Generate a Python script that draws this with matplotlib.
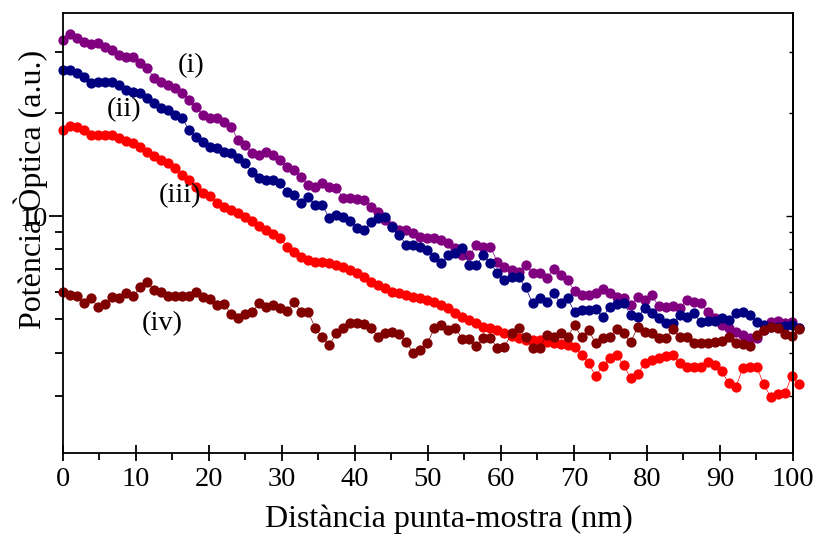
import numpy as np
import matplotlib
matplotlib.use("Agg")
import matplotlib.pyplot as plt
from matplotlib import ticker

plt.rcParams["font.family"] = ["Liberation Serif", "DejaVu Serif"]

# distància punta-mostra (nm), mostreig regular
n_points = 106
step_nm = 0.96
distance = np.arange(n_points) * step_nm

# (i) porpra
power_i = [
    32.60, 33.94, 33.04, 32.16, 31.73, 31.95, 31.10, 30.48, 29.47, 29.08,
    29.08, 27.93, 27.01, 25.26, 24.59, 24.09, 23.62, 22.84, 21.79, 20.79,
    19.70, 19.31, 19.31, 18.80, 18.18, 16.66, 16.11, 15.26, 15.06, 15.37,
    15.06, 14.56, 13.90, 13.62, 12.99, 12.31, 12.15, 12.48, 12.15, 12.07,
    11.28, 11.28, 11.21, 11.13, 10.62, 10.27, 9.735, 9.351, 9.103, 9.103,
    8.921, 8.685, 8.627, 8.627, 8.512, 8.342, 8.067, 7.696, 7.696, 8.230,
    8.121, 8.121, 7.343, 7.101, 6.959, 6.866, 7.196, 6.820, 6.820, 6.595,
    7.005, 6.729, 6.507, 6.044, 5.883, 5.883, 5.963, 6.125, 5.963, 5.805,
    5.767, 5.501, 5.805, 5.689, 5.883, 5.465, 5.428, 5.465, 5.392, 5.689,
    5.613, 5.576, 5.249, 5.042, 4.810, 4.714, 4.589, 4.498, 4.408, 4.408,
    4.651, 4.908, 4.941, 4.875, 4.908, 4.714,
]

# (ii) blau marí
power_ii = [
    26.65, 26.65, 26.12, 25.43, 24.42, 24.59, 24.59, 24.59, 24.09, 23.30,
    22.99, 22.84, 22.08, 21.35, 20.65, 20.37, 19.70, 19.31, 17.81, 17.00,
    16.43, 15.89, 15.79, 15.37, 15.26, 14.76, 14.27, 13.44, 12.91, 12.73,
    12.73, 12.48, 11.75, 11.51, 10.91, 11.36, 10.77, 10.77, 9.867, 10.07,
    9.933, 9.670, 9.226, 9.103, 9.605, 9.867, 9.933, 9.288, 8.802, 8.230,
    8.230, 8.121, 7.959, 7.594, 7.294, 7.696, 7.800, 8.067, 7.196, 7.196,
    7.696, 7.294, 6.820, 6.507, 6.639, 6.639, 6.208, 5.576, 5.767, 5.613,
    5.963, 5.576, 5.767, 5.249, 5.320, 5.320, 5.356, 5.076, 5.428, 5.539,
    5.576, 5.144, 5.076, 5.392, 5.214, 5.042, 4.875, 4.875, 5.144, 5.076,
    5.214, 4.908, 4.941, 4.941, 5.042, 4.975, 5.214, 5.249, 5.144, 4.908,
    4.810, 4.746, 4.746, 4.778, 4.810, 4.714,
]

# (iii) vermell
power_iii = [
    17.81, 18.30, 18.18, 17.81, 17.22, 17.22, 17.22, 17.22, 16.88, 16.55,
    16.32, 15.89, 15.37, 14.96, 14.56, 14.27, 13.80, 13.17, 12.73, 12.15,
    11.67, 11.44, 10.91, 10.62, 10.41, 10.20, 9.933, 9.670, 9.351, 9.103,
    8.862, 8.627, 8.121, 7.853, 7.594, 7.442, 7.343, 7.343, 7.294, 7.196,
    7.101, 6.959, 6.820, 6.639, 6.420, 6.292, 6.167, 6.003, 5.963, 5.883,
    5.805, 5.767, 5.689, 5.613, 5.501, 5.392, 5.214, 5.076, 4.975, 4.875,
    4.746, 4.714, 4.651, 4.559, 4.468, 4.408, 4.349, 4.349, 4.349, 4.291,
    4.263, 4.234, 4.206, 4.150, 3.932, 3.727, 3.416, 3.653, 3.854, 3.932,
    3.677, 3.370, 3.462, 3.727, 3.803, 3.854, 3.906, 3.932, 3.727, 3.628,
    3.628, 3.628, 3.752, 3.677, 3.532, 3.259, 3.172, 3.604, 3.628, 3.628,
    3.237, 2.966, 3.027, 3.047, 3.416, 3.237,
]

# (iv) granat
power_iv = [
    6.003, 5.883, 5.844, 5.576, 5.767, 5.428, 5.539, 5.805, 5.767, 5.963,
    5.844, 6.208, 6.420, 6.085, 6.003, 5.844, 5.844, 5.844, 5.844, 6.003,
    5.805, 5.727, 5.501, 5.539, 5.179, 5.042, 5.179, 5.249, 5.576, 5.428,
    5.501, 5.392, 5.284, 5.613, 5.249, 5.249, 4.714, 4.438, 4.206, 4.559,
    4.714, 4.875, 4.875, 4.843, 4.714, 4.438, 4.559, 4.589, 4.528, 4.291,
    3.986, 4.067, 4.263, 4.714, 4.810, 4.651, 4.714, 4.378, 4.378, 4.178,
    4.408, 4.408, 4.122, 4.150, 4.559, 4.714, 4.438, 4.122, 4.122, 4.498,
    4.438, 4.559, 4.438, 4.810, 4.438, 4.651, 4.263, 4.408, 4.438, 4.683,
    4.559, 4.291, 4.746, 4.589, 4.559, 4.408, 4.408, 4.683, 4.438, 4.438,
    4.263, 4.263, 4.263, 4.291, 4.320, 4.438, 4.263, 4.234, 4.178, 4.498,
    4.651, 4.746, 4.714, 4.528, 4.468, 4.683,
]

series = [
    (power_i, "#800080", "(i)", (0.176, 0.880)),
    (power_ii, "#000080", "(ii)", (0.084, 0.780)),
    (power_iii, "#FF0000", "(iii)", (0.160, 0.584)),
    (power_iv, "#800000", "(iv)", (0.136, 0.293)),
]

fig = plt.figure(figsize=(8.16, 5.36), dpi=100)
ax = fig.add_axes([0.0772, 0.1549, 0.8946, 0.8208])

for values, color, label, pos in series:
    ax.plot(distance, values, "-", color=color, lw=0.5, marker="o",
            markersize=7.4, markeredgewidth=0, clip_on=False)
    ax.text(pos[0], pos[1], label, transform=ax.transAxes, fontsize=20.5,
            ha="center", va="center")

ax.set_yscale("log")
ax.set_xlim(0, 100)
ax.set_ylim(2.04, 39.1)

y_minor = [3, 4, 5, 6, 7, 8, 9, 20, 30]

ax.xaxis.set_major_locator(ticker.MultipleLocator(10))
ax.xaxis.set_minor_locator(ticker.MultipleLocator(5))
ax.yaxis.set_major_locator(ticker.FixedLocator([10]))
ax.yaxis.set_major_formatter(ticker.FormatStrFormatter("%d"))
ax.yaxis.set_minor_locator(ticker.FixedLocator(y_minor))
ax.yaxis.set_minor_formatter(ticker.NullFormatter())

ax.tick_params(axis="x", which="major", direction="inout", length=12, width=1.3,
               labelsize=20.5, pad=4)
ax.tick_params(axis="x", which="minor", direction="out", length=5, width=1.3)
ax.tick_params(axis="y", which="major", direction="out", length=10, width=1.3,
               labelsize=20.5, pad=1)
ax.tick_params(axis="y", which="minor", direction="out", length=6, width=1.3)
for s in ax.spines.values():
    s.set_linewidth(1.3)

# eix dret: només marques petites cap a dins
right = ax.secondary_yaxis("right")
right.set_yscale("log")
right.yaxis.set_major_locator(ticker.FixedLocator([10]))
right.yaxis.set_minor_locator(ticker.FixedLocator(y_minor))
right.yaxis.set_major_formatter(ticker.NullFormatter())
right.yaxis.set_minor_formatter(ticker.NullFormatter())
right.tick_params(which="major", direction="in", length=5, width=1.0)
right.tick_params(which="minor", direction="in", length=3, width=1.0)
right.spines["right"].set_linewidth(1.3)

ax.set_xlabel("Distància punta-mostra (nm)", fontsize=23)
ax.set_ylabel("Potència Òptica (a.u.)", fontsize=23)
ax.xaxis.set_label_coords(0.529, -0.118)
ax.yaxis.set_label_coords(-0.02, 0.6)

fig.savefig("out.png", dpi=100)
